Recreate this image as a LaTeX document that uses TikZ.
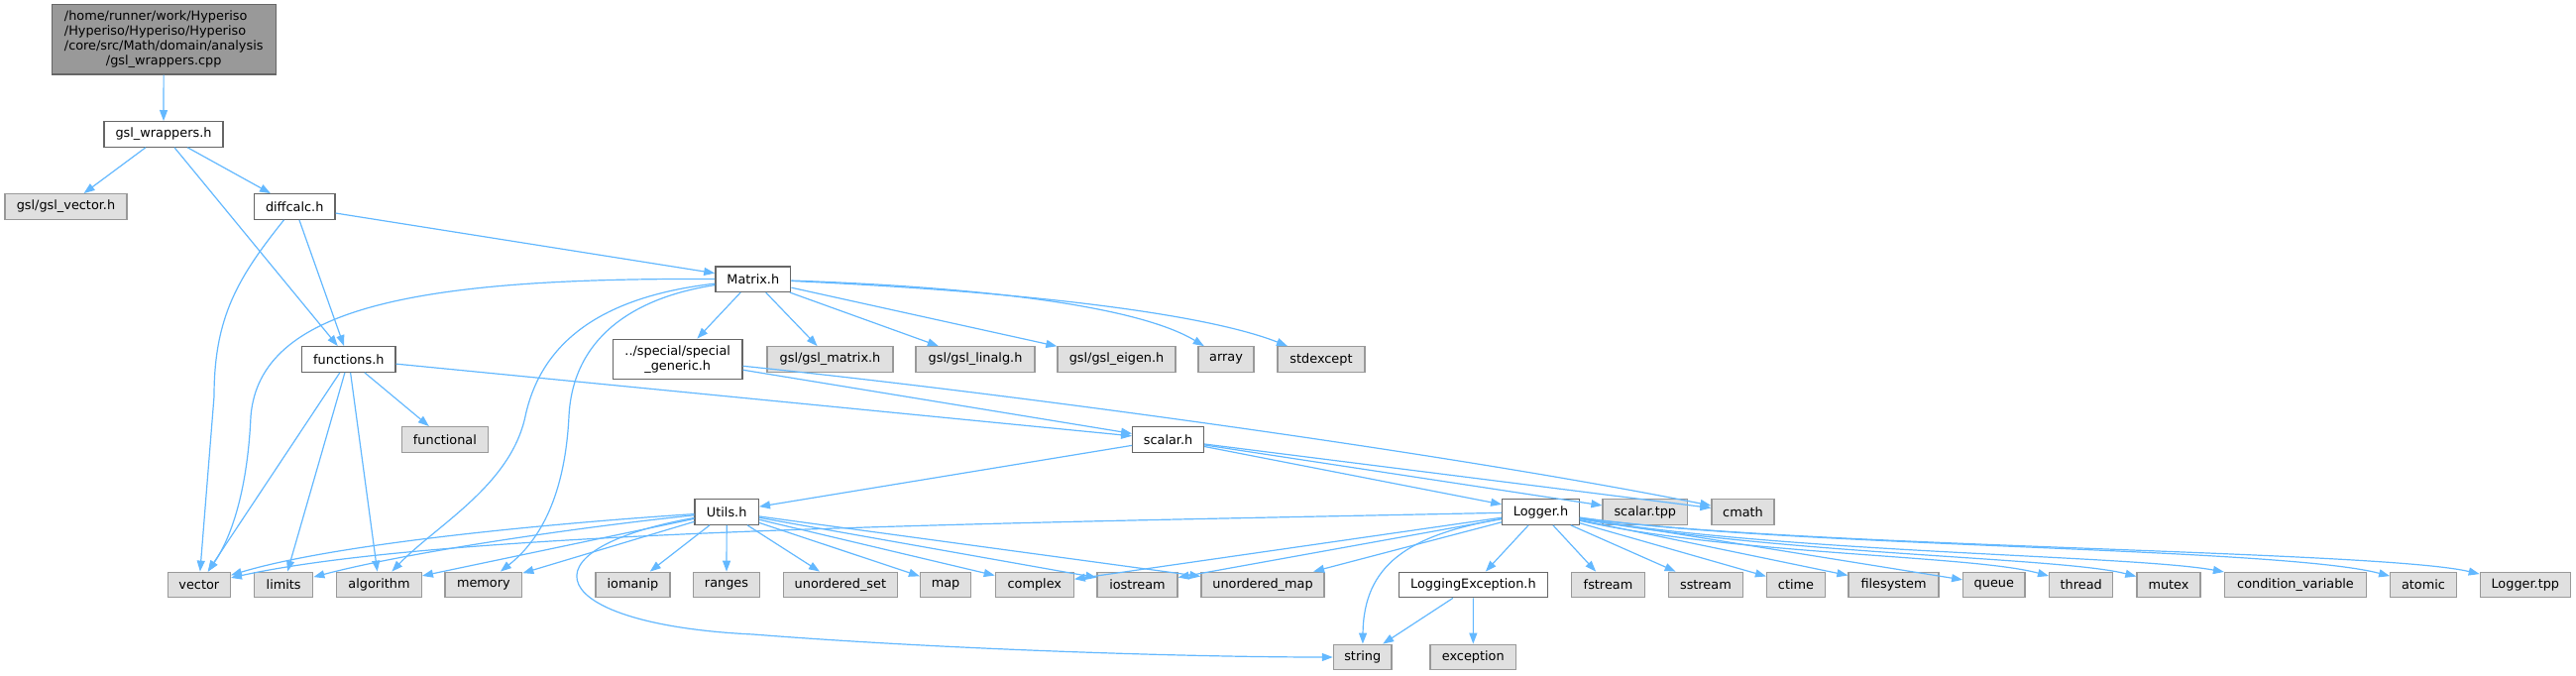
\documentclass[tikz,border=0pt]{standalone}
\usepackage{fontspec}
\setmainfont{DejaVu Sans}
\usetikzlibrary{arrows.meta}

\definecolor{edgeblue}{HTML}{63B8FF}
\definecolor{hdrline}{HTML}{666666}
\definecolor{sysline}{HTML}{999999}
\definecolor{sysfill}{HTML}{E0E0E0}
\definecolor{srcfill}{HTML}{999999}

\tikzset{
  box/.style={rectangle, inner sep=0pt, minimum height=25.5pt, line width=1.3pt,
    font=\fontsize{12.85}{14.8}\selectfont},
  hdr/.style={box, draw=hdrline, fill=white},
  sys/.style={box, draw=sysline, fill=sysfill},
  srcbox/.style={box, draw=hdrline, fill=srcfill},
  inc/.style={draw=edgeblue, line width=1.2pt, -{Triangle[length=11pt,width=8pt]}},
}

\begin{document}
\begin{tikzpicture}[x=1pt, y=-1pt]
    \useasboundingbox (0,0) rectangle (2599,681);

    % Level 0: the source file
    \node[srcbox, minimum width=226pt, minimum height=70.3pt] (cpp) at (165.2,39.9)
      {\begin{tabular}{@{}l@{}}/home/runner/work/Hyperiso\\/Hyperiso/Hyperiso/Hyperiso\\/core/src/Math/domain/analysis\\\multicolumn{1}{@{}c@{}}{/gsl\_wrappers.cpp}\end{tabular}};

    % Level 1 and 2
    \node[hdr, minimum width=120.1pt] (gwr) at (165,135.4) {gsl\_wrappers.h};
    \node[sys, minimum width=123.2pt] (gvc) at (66.5,208.5) {gsl/gsl\_vector.h};
    \node[hdr, minimum width=81.7pt] (dif) at (297.2,208.5) {diffcalc.h};

    % Level 3 and 4: Matrix.h and what it pulls in
    \node[hdr, minimum width=75.9pt] (mtx) at (759.8,281.7) {Matrix.h};
    \node[hdr, minimum width=94.5pt] (fun) at (351.8,362.5) {functions.h};
    \node[hdr, minimum width=130.7pt, minimum height=40.5pt, align=center] (spg) at (683.7,362.5) {../special/special\\\_generic.h};
    \node[sys, minimum width=127pt] (gmx) at (837.5,362.5) {gsl/gsl\_matrix.h};
    \node[sys, minimum width=120pt] (gla) at (984,362.5) {gsl/gsl\_linalg.h};
    \node[sys, minimum width=119pt] (gei) at (1126.5,362.5) {gsl/gsl\_eigen.h};
    \node[sys, minimum width=56pt] (arr) at (1237,362.5) {array};
    \node[sys, minimum width=88pt] (stx) at (1333,362.5) {stdexcept};

    % Level 5 and 6
    \node[sys, minimum width=87.1pt] (fnl) at (448.9,443.4) {functional};
    \node[hdr, minimum width=71.8pt] (scl) at (1178.6,443.4) {scalar.h};
    \node[hdr, minimum width=64.3pt] (utl) at (733.2,516.5) {Utils.h};
    \node[hdr, minimum width=77.5pt] (log) at (1554.5,516.5) {Logger.h};
    \node[sys, minimum width=85.5pt] (stp) at (1659.8,516.5) {scalar.tpp};
    \node[sys, minimum width=63pt] (cmt) at (1758.5,516.5) {cmath};

    % Level 7: standard headers
    \node[sys, minimum width=63pt] (vec) at (200.8,590) {vector};
    \node[sys, minimum width=59pt] (lim) at (286.2,590) {limits};
    \node[sys, minimum width=85.6pt] (alg) at (382.5,590) {algorithm};
    \node[sys, minimum width=77.7pt] (mem) at (487.9,590) {memory};
    \node[sys, minimum width=75pt] (iom) at (638.5,590) {iomanip};
    \node[sys, minimum width=67.5pt] (rng) at (733,590) {ranges};
    \node[sys, minimum width=115pt] (ust) at (847.9,590) {unordered\_set};
    \node[sys, minimum width=51pt] (map) at (954.1,590) {map};
    \node[sys, minimum width=78.9pt] (cpx) at (1043.8,590) {complex};
    \node[sys, minimum width=80.9pt] (ios) at (1147.5,590) {iostream};
    \node[sys, minimum width=124pt] (umap) at (1274,590) {unordered\_map};
    \node[hdr, minimum width=150pt] (lex) at (1486.4,590) {LoggingException.h};
    \node[sys, minimum width=73.6pt] (fst) at (1622.5,590) {fstream};
    \node[sys, minimum width=74.6pt] (sst) at (1720.9,590) {sstream};
    \node[sys, minimum width=58.9pt] (ctm) at (1812,590) {ctime};
    \node[sys, minimum width=91pt] (fsy) at (1910.5,590) {filesystem};
    \node[sys, minimum width=62.2pt] (que) at (2011.8,590) {queue};
    \node[sys, minimum width=64.2pt] (thr) at (2099.7,590) {thread};
    \node[sys, minimum width=64.1pt] (mut) at (2188,590) {mutex};
    \node[sys, minimum width=142.9pt] (cvr) at (2316,590) {condition\_variable};
    \node[sys, minimum width=66.5pt] (atm) at (2445,590) {atomic};
    \node[sys, minimum width=91pt] (ltp) at (2547.8,590) {Logger.tpp};

    % Level 8
    \node[sys, minimum width=58.6pt] (str) at (1374.7,663) {string};
    \node[sys, minimum width=86.6pt] (exc) at (1486.3,663) {exception};

    % Edges from the top
    \draw[inc] (cpp) -- (gwr);
    \foreach \t in {gvc,dif,fun} \draw[inc] (gwr) -- (\t);
    \draw[inc] (dif) -- (fun);
    \draw[inc] (dif) -- (mtx);
    \draw[inc] (dif) .. controls (240,280) and (216,320) .. (216,400) -- (vec);

    % Matrix.h
    \foreach \t in {spg,gmx,gla,gei} \draw[inc] (mtx) -- (\t);
    \draw[inc] (mtx) .. controls (1000,290) and (1150,310) .. (arr);
    \draw[inc] (mtx) .. controls (1050,295) and (1220,318) .. (stx);
    \draw[inc] (mtx) .. controls (420,280) and (262,310) .. (253,420) .. controls (250,490) and (235,540) .. (vec);
    \draw[inc] (mtx) .. controls (600,300) and (545,350) .. (530,420) .. controls (515,490) and (440,530) .. (alg);
    \draw[inc] (mtx) .. controls (640,300) and (578,340) .. (574,420) .. controls (570,500) and (545,545) .. (mem);

    % functions.h and special_generic.h
    \foreach \t in {fnl,vec,lim,alg,scl} \draw[inc] (fun) -- (\t);
    \draw[inc] (spg) -- (scl);
    \draw[inc] (spg) .. controls (1000,395) and (1450,455) .. (cmt);

    % scalar.h
    \foreach \t in {utl,log,stp,cmt} \draw[inc] (scl) -- (\t);

    % Utils.h
    \draw[inc] (utl) .. controls (600,525) and (350,545) .. (vec);
    \draw[inc] (utl) .. controls (600,530) and (420,555) .. (lim);
    \foreach \t in {alg,mem,iom,rng,ust,map,cpx,ios,umap} \draw[inc] (utl) -- (\t);
    \draw[inc] (utl) .. controls (520,555) and (550,630) .. (760,640) .. controls (950,655) and (1200,663) .. (str);

    % Logger.h
    \draw[inc] (log) .. controls (1000,528) and (450,535) .. (vec);
    \foreach \t in {cpx,ios,umap,lex,fst,sst,ctm,fsy,que} \draw[inc] (log) -- (\t);
    \draw[inc] (log) .. controls (1420,540) and (1376,570) .. (str);
    \draw[inc] (log) .. controls (1750,560) and (1990,560) .. (thr);
    \draw[inc] (log) .. controls (1800,560) and (2080,562) .. (mut);
    \draw[inc] (log) .. controls (1800,558) and (2150,560) .. (cvr);
    \draw[inc] (log) .. controls (1800,552) and (2300,552) .. (atm);
    \draw[inc] (log) .. controls (1800,552) and (2400,555) .. (ltp);

    % LoggingException.h
    \draw[inc] (lex) -- (str);
    \draw[inc] (lex) -- (exc);

\end{tikzpicture}
\end{document}
